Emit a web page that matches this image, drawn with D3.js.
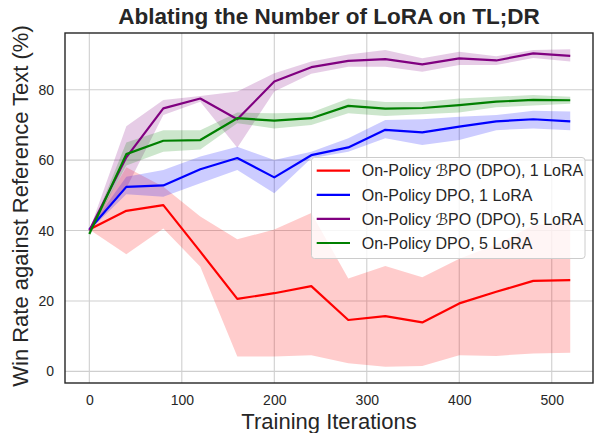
<!DOCTYPE html>
<html>
<head>
<meta charset="utf-8">
<script src="https://cdn.jsdelivr.net/npm/d3@7"></script>
<style>
  body { margin: 0; background: #fff; }
  text { font-family: "Liberation Sans", Arial, "DejaVu Sans", sans-serif; fill: #262626; }
</style>
</head>
<body>
<div id="chart"></div>
<script>
// training iterations (x)
var iters = [0, 40, 80, 120, 160, 200, 240, 280, 320, 360, 400, 440, 480, 520];

// series: mean line + lower/upper band
var redMean = [40.3, 45.6, 47.2, 34.0, 20.6, 22.2, 24.2, 14.6, 15.7, 13.9, 19.3, 22.6, 25.7, 25.9];
var redLo   = [40.3, 33.3, 40.6, 29.7, 4.2, 4.2, 4.6, 2.3, 1.3, 1.5, 4.6, 4.4, 5.1, 5.3];
var redHi   = [40.3, 58.0, 52.4, 44.0, 37.5, 40.3, 45.0, 26.4, 29.9, 26.7, 32.0, 36.0, 41.5, 42.5];

var blueMean = [40.3, 52.4, 52.8, 57.4, 60.6, 55.1, 61.4, 63.6, 68.6, 67.9, 69.5, 71.0, 71.6, 71.0];
var blueLo   = [40.0, 50.3, 49.6, 53.4, 57.2, 50.6, 60.5, 62.4, 66.2, 64.3, 65.7, 68.5, 69.0, 68.5];
var blueHi   = [40.5, 55.3, 57.2, 61.0, 63.8, 60.0, 62.4, 66.2, 71.4, 71.6, 72.3, 72.8, 74.0, 73.8];

var purpleMean = [40.0, 60.8, 74.7, 77.5, 71.6, 82.3, 86.4, 88.2, 88.7, 87.2, 88.9, 88.3, 90.3, 89.6];
var purpleLo   = [40.0, 52.0, 72.8, 76.6, 63.5, 79.5, 84.5, 86.5, 86.5, 85.1, 87.0, 87.0, 89.0, 88.0];
var purpleHi   = [40.0, 69.6, 77.1, 78.2, 79.5, 84.7, 88.0, 90.0, 91.3, 88.9, 90.8, 89.5, 91.3, 91.5];

var greenMean = [39.0, 61.7, 65.5, 65.7, 71.9, 71.2, 71.9, 75.4, 74.6, 74.8, 75.6, 76.6, 77.1, 77.0];
var greenLo   = [39.0, 58.5, 62.4, 63.0, 70.5, 69.0, 70.0, 73.3, 72.5, 73.0, 73.5, 75.0, 75.5, 76.0];
var greenHi   = [39.0, 65.0, 68.5, 68.5, 73.5, 73.3, 73.5, 77.5, 76.5, 76.5, 77.5, 78.0, 78.5, 78.0];

var labels = ["On-Policy \u212CPO (DPO), 1 LoRA", "On-Policy DPO, 1 LoRA",
              "On-Policy \u212CPO (DPO), 5 LoRA", "On-Policy DPO, 5 LoRA"];
var colors = ["#ff0000", "#0000ff", "#800080", "#008000"];

var xTicks = [0, 100, 200, 300, 400, 500];
var yTicks = [0, 20, 40, 60, 80];

var series = [
  {mean: redMean, lo: redLo, hi: redHi},
  {mean: blueMean, lo: blueLo, hi: blueHi},
  {mean: purpleMean, lo: purpleLo, hi: purpleHi},
  {mean: greenMean, lo: greenLo, hi: greenHi}
];

var svgWidth = 595, svgHeight = 433;
var margin = {top: 33, right: 2, bottom: 50, left: 65};
var width = svgWidth - margin.left - margin.right;
var height = svgHeight - margin.top - margin.bottom;

var svg = d3.select("#chart").append("svg")
  .attr("width", svgWidth)
  .attr("height", svgHeight);

var chartGroup = svg.append("g")
  .attr("transform", `translate(${margin.left}, ${margin.top})`);

var x = d3.scaleLinear().domain([-26.3, 544.6]).range([0, width]);
var y = d3.scaleLinear().domain([-3.3, 96.1]).range([height, 0]);

// grid
chartGroup.append("g")
  .selectAll("line.gx").data(xTicks).enter().append("line")
  .attr("x1", d => x(d)).attr("x2", d => x(d))
  .attr("y1", 0).attr("y2", height)
  .attr("stroke", "#cfcfcf").attr("stroke-width", 1.1);
chartGroup.append("g")
  .selectAll("line.gy").data(yTicks).enter().append("line")
  .attr("x1", 0).attr("x2", width)
  .attr("y1", d => y(d)).attr("y2", d => y(d))
  .attr("stroke", "#cfcfcf").attr("stroke-width", 1.1);

// bands first (below every line)
var area = d3.area()
  .x((d, i) => x(iters[i]))
  .y0(d => y(d[0]))
  .y1(d => y(d[1]));

series.forEach(function(s, k) {
  chartGroup.append("path")
    .datum(s.lo.map((v, i) => [v, s.hi[i]]))
    .attr("d", area)
    .attr("fill", colors[k])
    .attr("fill-opacity", 0.2);
});

var line = d3.line()
  .x((d, i) => x(iters[i]))
  .y(d => y(d));

series.forEach(function(s, k) {
  chartGroup.append("path")
    .datum(s.mean)
    .attr("d", line)
    .attr("fill", "none")
    .attr("stroke", colors[k])
    .attr("stroke-width", 2.2)
    .attr("stroke-linejoin", "round");
});

// axes (labels only, no tick marks)
var bottomAxis = d3.axisBottom(x).tickValues(xTicks).tickSize(0).tickPadding(12);
var leftAxis = d3.axisLeft(y).tickValues(yTicks).tickSize(0).tickPadding(11);

chartGroup.append("g")
  .attr("transform", `translate(0, ${height})`)
  .call(bottomAxis)
  .call(g => g.select(".domain").remove())
  .selectAll("text").style("font-size", "14px").attr("fill", "#262626");

chartGroup.append("g")
  .call(leftAxis)
  .call(g => g.select(".domain").remove())
  .selectAll("text").style("font-size", "14px").attr("fill", "#262626");

// frame
chartGroup.append("rect")
  .attr("width", width).attr("height", height)
  .attr("fill", "none")
  .attr("stroke", "#262626")
  .attr("stroke-width", 1.4);

// title & axis labels
svg.append("text")
  .attr("x", margin.left + width / 2).attr("y", 23.5)
  .attr("text-anchor", "middle")
  .style("font-size", "22.5px").style("font-weight", "bold")
  .text("Ablating the Number of LoRA on TL;DR");

svg.append("text")
  .attr("x", margin.left + width / 2).attr("y", 429)
  .attr("text-anchor", "middle")
  .style("font-size", "22px")
  .text("Training Iterations");

svg.append("text")
  .attr("transform", `translate(27.5, ${margin.top + height / 2 - 2}) rotate(-90)`)
  .attr("text-anchor", "middle")
  .style("font-size", "22px")
  .text("Win Rate against Reference Text (%)");

// legend
var legend = svg.append("g");
legend.append("rect")
  .attr("x", 311.5).attr("y", 157.5)
  .attr("width", 273.5).attr("height", 101)
  .attr("rx", 3)
  .attr("fill", "#ffffff").attr("fill-opacity", 0.8)
  .attr("stroke", "#cccccc").attr("stroke-width", 1);

var rowY = d3.scalePoint().domain(d3.range(labels.length)).range([170.7, 243]);

var rows = legend.selectAll("g.row").data(labels).enter().append("g")
  .attr("transform", (d, i) => `translate(0, ${rowY(i)})`);

rows.append("line")
  .attr("x1", 316.7).attr("x2", 350)
  .attr("stroke", (d, i) => colors[i])
  .attr("stroke-width", 2.2);

rows.append("text")
  .attr("x", 361.7).attr("dy", "0.36em")
  .style("font-size", "16px")
  .text(d => d);
</script>
</body>
</html>
